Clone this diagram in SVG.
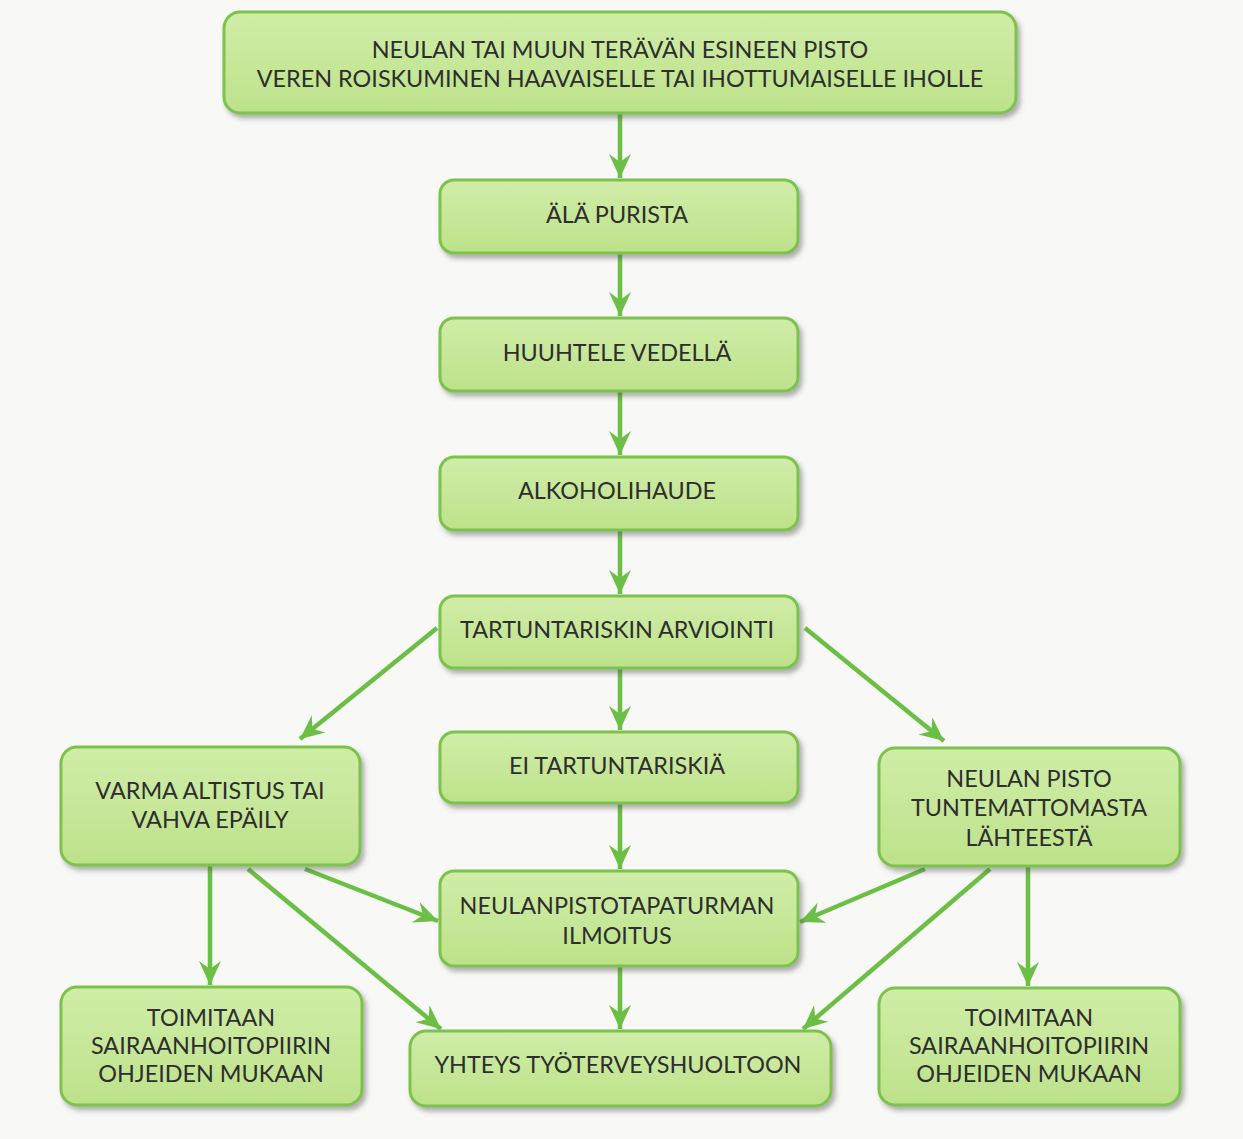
<svg xmlns="http://www.w3.org/2000/svg" width="1243" height="1139" viewBox="0 0 1243 1139">
<style>
.box{fill:url(#g);stroke:#7dc24e;stroke-width:3;filter:url(#sh)}
.t{font-family:Lato,"Open Sans","Liberation Sans",sans-serif;font-size:23.4px;fill:#2e2e2e;text-anchor:middle}
.c{stroke:#6cbf45;stroke-width:4.5;fill:none;marker-end:url(#a)}
</style>
<defs>
<linearGradient id="g" x1="0" y1="0" x2="0" y2="1">
<stop offset="0" stop-color="#d0eda8"/>
<stop offset="1" stop-color="#bde28a"/>
</linearGradient>
<filter id="sh" x="-10%" y="-10%" width="120%" height="130%">
<feDropShadow dx="3" dy="4" stdDeviation="2.5" flood-color="#555" flood-opacity="0.45"/>
</filter>
<marker id="a" markerUnits="userSpaceOnUse" markerWidth="28" markerHeight="24" refX="24" refY="12" orient="auto">
<path d="M0,1 L24,12 L0,23 L8,12 z" fill="#6cbf45"/>
</marker>
</defs>
<rect width="1243" height="1139" fill="#f8f8f6"/>
<g id="connectors">
<line class="c" x1="620" y1="114" x2="620" y2="178"/>
<line class="c" x1="620" y1="254" x2="620" y2="316"/>
<line class="c" x1="620" y1="392" x2="620" y2="455"/>
<line class="c" x1="620" y1="531" x2="620" y2="594"/>
<line class="c" x1="620" y1="669" x2="620" y2="730"/>
<line class="c" x1="437" y1="628" x2="300" y2="739"/>
<line class="c" x1="805" y1="628" x2="944" y2="741"/>
<line class="c" x1="620" y1="804" x2="620" y2="869"/>
<line class="c" x1="210" y1="866" x2="210" y2="985"/>
<line class="c" x1="305" y1="869" x2="438" y2="921"/>
<line class="c" x1="248" y1="869" x2="441" y2="1029"/>
<line class="c" x1="925" y1="869" x2="800" y2="922"/>
<line class="c" x1="990" y1="869" x2="803" y2="1029"/>
<line class="c" x1="1028" y1="867" x2="1028" y2="986"/>
<line class="c" x1="620" y1="967" x2="620" y2="1029"/>
</g>
<g id="n1"><rect class="box" x="224" y="12" width="792" height="101" rx="16"/>
<text class="t" x="620" y="58">NEULAN TAI MUUN TERÄVÄN ESINEEN PISTO</text>
<text class="t" x="620" y="87">VEREN ROISKUMINEN HAAVAISELLE TAI IHOTTUMAISELLE IHOLLE</text></g>
<g id="n2"><rect class="box" x="440" y="180" width="358" height="73" rx="14"/>
<text class="t" x="617" y="223">ÄLÄ PURISTA</text></g>
<g id="n3"><rect class="box" x="440" y="318" width="358" height="73" rx="14"/>
<text class="t" x="617" y="361">HUUHTELE VEDELLÄ</text></g>
<g id="n4"><rect class="box" x="440" y="457" width="358" height="73" rx="14"/>
<text class="t" x="617" y="499">ALKOHOLIHAUDE</text></g>
<g id="n5"><rect class="box" x="440" y="596" width="358" height="72" rx="14"/>
<text class="t" x="617" y="638">TARTUNTARISKIN ARVIOINTI</text></g>
<g id="n6"><rect class="box" x="440" y="732" width="358" height="71" rx="14"/>
<text class="t" x="617" y="774">EI TARTUNTARISKIÄ</text></g>
<g id="n7"><rect class="box" x="61" y="747" width="299" height="118" rx="16"/>
<text class="t" x="210" y="799">VARMA ALTISTUS TAI</text>
<text class="t" x="210" y="828">VAHVA EPÄILY</text></g>
<g id="n8"><rect class="box" x="879" y="748" width="301" height="118" rx="16"/>
<text class="t" x="1029" y="787">NEULAN PISTO</text>
<text class="t" x="1029" y="816">TUNTEMATTOMASTA</text>
<text class="t" x="1029" y="846">LÄHTEESTÄ</text></g>
<g id="n9"><rect class="box" x="440" y="871" width="358" height="95" rx="14"/>
<text class="t" x="617" y="914">NEULANPISTOTAPATURMAN</text>
<text class="t" x="617" y="944">ILMOITUS</text></g>
<g id="n10"><rect class="box" x="61" y="987" width="301" height="118" rx="16"/>
<text class="t" x="211" y="1026">TOIMITAAN</text>
<text class="t" x="211" y="1054">SAIRAANHOITOPIIRIN</text>
<text class="t" x="211" y="1082">OHJEIDEN MUKAAN</text></g>
<g id="n11"><rect class="box" x="410" y="1031" width="421" height="75" rx="16"/>
<text class="t" x="618" y="1073">YHTEYS TYÖTERVEYSHUOLTOON</text></g>
<g id="n12"><rect class="box" x="879" y="988" width="301" height="117" rx="16"/>
<text class="t" x="1029" y="1026">TOIMITAAN</text>
<text class="t" x="1029" y="1054">SAIRAANHOITOPIIRIN</text>
<text class="t" x="1029" y="1082">OHJEIDEN MUKAAN</text></g>
</svg>
